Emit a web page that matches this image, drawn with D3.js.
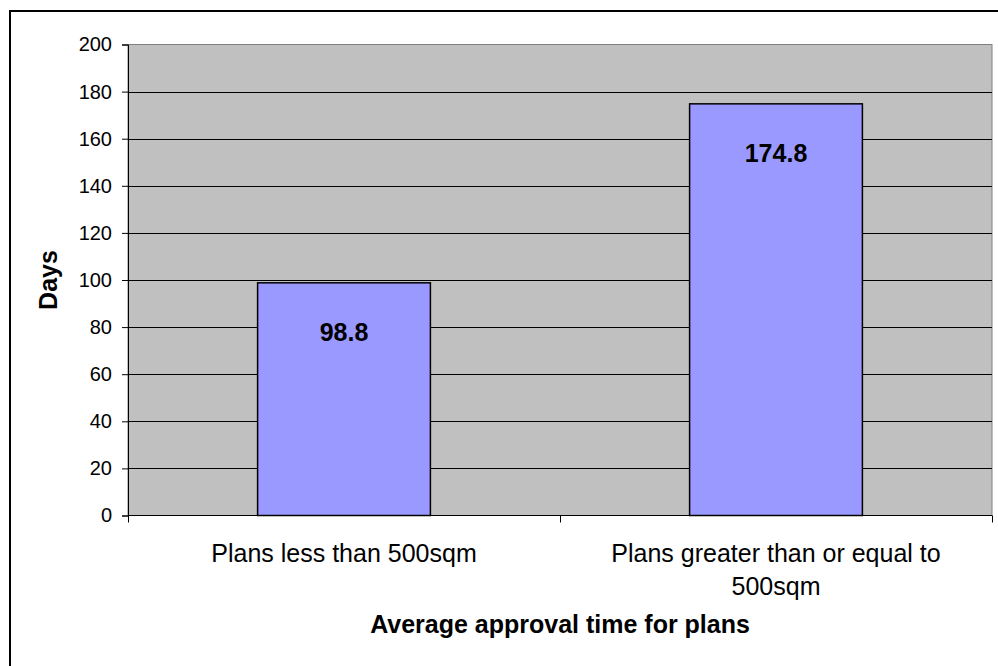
<!DOCTYPE html>
<html>
<head>
<meta charset="utf-8">
<script src="https://cdn.jsdelivr.net/npm/d3@7"></script>
<style>
  html, body { margin: 0; padding: 0; background: #fff; }
  svg { display: block; font-family: "Liberation Sans", Arial, Helvetica, sans-serif; }
</style>
</head>
<body>
<svg id="chart" width="998" height="666"></svg>
<script>
// ---- data ----
const categories = ["Plans less than 500sqm", "Plans greater than or equal to 500sqm"];
const values = [98.8, 174.8];
const yTicks = [0, 20, 40, 60, 80, 100, 120, 140, 160, 180, 200];
const yTitle = "Days";
const xTitle = "Average approval time for plans";

const svg = d3.select("#chart");

// outer chart border (extends past the viewport on right/bottom)
svg.append("rect")
  .attr("x", 10).attr("y", 11)
  .attr("width", 1100).attr("height", 1100)
  .attr("fill", "#fff").attr("stroke", "#000").attr("stroke-width", 2);

const plot = { left: 128, right: 992, top: 44.5, bottom: 515.5 };

const x = d3.scaleBand()
  .domain(categories)
  .range([plot.left, plot.right])
  .paddingInner(0.6)
  .paddingOuter(0.3);

const y = d3.scaleLinear()
  .domain([0, 200])
  .range([plot.bottom, plot.top]);

// plot area background
svg.append("rect")
  .attr("x", plot.left).attr("y", plot.top)
  .attr("width", plot.right - plot.left).attr("height", plot.bottom - plot.top)
  .attr("fill", "#C0C0C0").attr("stroke", "#808080").attr("stroke-width", 1);

// gridlines
svg.append("g").selectAll("line")
  .data(yTicks.filter(d => d > 0 && d < 200))
  .join("line")
  .attr("x1", plot.left).attr("x2", plot.right)
  .attr("y1", d => Math.round(y(d)) + 0.5).attr("y2", d => Math.round(y(d)) + 0.5)
  .attr("stroke", "#000").attr("stroke-width", 1);

// bars
svg.append("g").selectAll("rect")
  .data(values)
  .join("rect")
  .attr("x", (d, i) => x(categories[i]))
  .attr("y", d => y(d))
  .attr("width", x.bandwidth())
  .attr("height", d => y(0) - y(d))
  .attr("fill", "#9999FF")
  .attr("stroke", "#000").attr("stroke-width", 1.5);

// value labels
svg.append("g").selectAll("text")
  .data(values)
  .join("text")
  .attr("x", (d, i) => x(categories[i]) + x.bandwidth() / 2)
  .attr("y", d => y(d) + 58)
  .attr("text-anchor", "middle")
  .attr("font-size", 25).attr("font-weight", "bold")
  .attr("fill", "#000")
  .text(d => d.toFixed(1));

// y axis
const yAxis = d3.axisLeft(y).tickValues(yTicks).tickSize(6).tickPadding(10).tickFormat(d3.format("d"));
const gy = svg.append("g").attr("transform", `translate(${plot.left},0)`).call(yAxis);
gy.select(".domain").attr("stroke", "#000").attr("stroke-width", 1);
gy.selectAll(".tick line").attr("stroke", "#000");
gy.selectAll(".tick text")
  .attr("font-size", 20).attr("font-family", "'Liberation Sans', Arial, sans-serif")
  .attr("fill", "#000");

// x axis line and boundary ticks
const boundaries = d3.range(categories.length + 1).map(i => plot.left + i * (plot.right - plot.left) / categories.length);
const gx = svg.append("g");
gx.append("line")
  .attr("x1", plot.left).attr("x2", plot.right)
  .attr("y1", plot.bottom).attr("y2", plot.bottom)
  .attr("stroke", "#000").attr("stroke-width", 1);
gx.selectAll("line.t")
  .data(boundaries)
  .join("line")
  .attr("class", "t")
  .attr("x1", d => Math.round(d) + 0.5).attr("x2", d => Math.round(d) + 0.5)
  .attr("y1", plot.bottom).attr("y2", plot.bottom + 7)
  .attr("stroke", "#000").attr("stroke-width", 1);

// category labels (wrapped)
function wrapWords(text, maxW, measure) {
  const words = text.split(" ");
  const lines = [];
  let cur = "";
  words.forEach(w => {
    const test = cur ? cur + " " + w : w;
    if (measure(test) > maxW && cur) { lines.push(cur); cur = w; }
    else cur = test;
  });
  if (cur) lines.push(cur);
  return lines;
}
const measurer = svg.append("text").attr("font-size", 25).attr("visibility", "hidden");
const measure = s => { measurer.text(s); return measurer.node().getComputedTextLength(); };

categories.forEach(c => {
  const lines = wrapWords(c, 380, measure);
  const t = svg.append("text")
    .attr("text-anchor", "middle")
    .attr("font-size", 25)
    .attr("fill", "#000");
  lines.forEach((ln, i) => {
    t.append("tspan")
      .attr("x", x(c) + x.bandwidth() / 2)
      .attr("y", 562 + i * 32.5)
      .text(ln);
  });
});
measurer.remove();

// axis titles
svg.append("text")
  .attr("x", (plot.left + plot.right) / 2)
  .attr("y", 633)
  .attr("text-anchor", "middle")
  .attr("font-size", 25).attr("font-weight", "bold")
  .text(xTitle);

svg.append("text")
  .attr("transform", `translate(57,${(plot.top + plot.bottom) / 2}) rotate(-90)`)
  .attr("text-anchor", "middle")
  .attr("font-size", 25).attr("font-weight", "bold")
  .text(yTitle);
</script>
</body>
</html>
